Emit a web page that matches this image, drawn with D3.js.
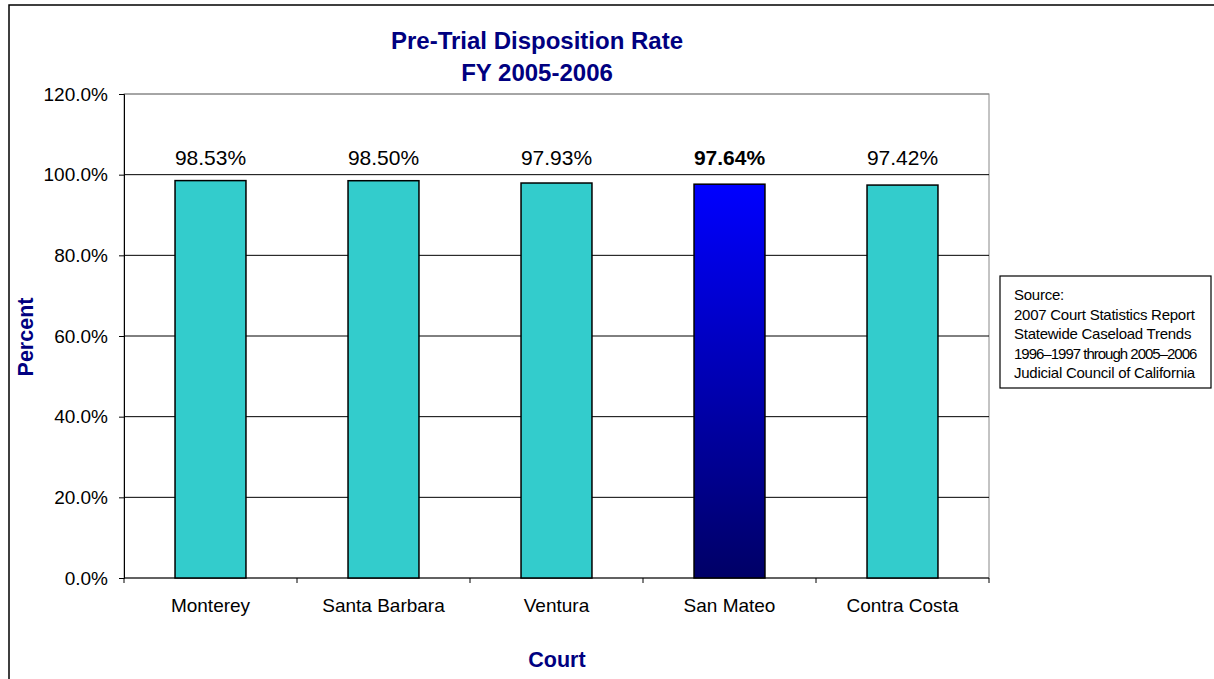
<!DOCTYPE html>
<html><head><meta charset="utf-8">
<script src="https://cdn.jsdelivr.net/npm/d3@7"></script>
<style>body{margin:0;background:#fff;} text{font-family:Arial,"Liberation Sans",sans-serif;}</style>
</head><body>
<svg id="c" width="1214" height="679"></svg>
<script>
const courts = ["Monterey","Santa Barbara","Ventura","San Mateo","Contra Costa"];
const rates = [98.53, 98.50, 97.93, 97.64, 97.42];
const highlight = ["San Mateo"];
const yTicks = [0,20,40,60,80,100,120];
const titleLines = ["Pre-Trial Disposition Rate","FY 2005-2006"];
const sourceLines = ["Source:","2007 Court Statistics Report","Statewide Caseload Trends","1996\u20131997 through 2005\u20132006","Judicial Council of California"];

const svg = d3.select("#c");
const M = {l:124, t:94, r:989, b:578};
const navy = "#000080";

// outer frame
svg.append("rect").attr("x",9).attr("y",5).attr("width",1300).attr("height",800)
  .attr("fill","#fff").attr("stroke","#000").attr("stroke-width",1.5);

const x = d3.scaleBand().domain(courts).range([M.l,M.r]).paddingInner(0.59).paddingOuter(0.295);
const xc = d3.scaleBand().domain(courts).range([M.l,M.r]);
const y = d3.scaleLinear().domain([0,120]).range([M.b,M.t]);

const defs = svg.append("defs");
const g = defs.append("linearGradient").attr("id","grad").attr("x1",0).attr("y1",0).attr("x2",0).attr("y2",1);
g.append("stop").attr("offset","0%").attr("stop-color","#0000ff");
g.append("stop").attr("offset","100%").attr("stop-color","#000066");

// plot area border
svg.append("rect").attr("x",M.l).attr("y",M.t).attr("width",M.r-M.l).attr("height",M.b-M.t)
  .attr("fill","none").attr("stroke","#888").attr("stroke-width",1);

// gridlines
svg.append("g").selectAll("line").data(yTicks.filter(d=>d>0)).join("line")
  .attr("x1",M.l).attr("x2",M.r).attr("y1",d=>y(d)).attr("y2",d=>y(d))
  .attr("stroke",d=>d===120?"#888":"#000").attr("stroke-width",1);

// y axis
const yAxis = d3.axisLeft(y).tickValues(yTicks).tickSize(5).tickFormat(d=>d.toFixed(1)+"%");
const ya = svg.append("g").attr("transform",`translate(${M.l},0)`).call(yAxis);
ya.select(".domain").attr("stroke","#000");
ya.selectAll(".tick line").attr("stroke","#000");
ya.selectAll("text").attr("font-size",19).attr("fill","#000").attr("x",-16).attr("font-family","Arial, 'Liberation Sans', sans-serif");

// x axis
const xa = svg.append("g").attr("transform",`translate(0,${M.b})`);
xa.append("line").attr("x1",M.l).attr("x2",M.r).attr("stroke","#000");
xa.selectAll("line.t").data(d3.range(courts.length+1)).join("line").attr("class","t")
  .attr("x1",i=>M.l+i*xc.bandwidth()).attr("x2",i=>M.l+i*xc.bandwidth()).attr("y1",0).attr("y2",5).attr("stroke","#000");
xa.selectAll("text").data(courts).join("text")
  .attr("x",d=>xc(d)+xc.bandwidth()/2).attr("y",34).attr("text-anchor","middle")
  .attr("font-size",19).attr("fill","#000").text(d=>d);

// bars
svg.append("g").selectAll("rect").data(courts).join("rect")
  .attr("x",d=>x(d)).attr("width",x.bandwidth())
  .attr("y",(d,i)=>y(rates[i])).attr("height",(d,i)=>M.b-y(rates[i]))
  .attr("fill",d=>highlight.includes(d)?"url(#grad)":"#33cccc")
  .attr("stroke","#000").attr("stroke-width",1.5);

// value labels
svg.append("g").selectAll("text").data(courts).join("text")
  .attr("x",d=>x(d)+x.bandwidth()/2).attr("y",165).attr("text-anchor","middle")
  .attr("font-size",21).attr("fill","#000")
  .attr("font-weight",d=>highlight.includes(d)?"bold":"normal")
  .text((d,i)=>rates[i].toFixed(2)+"%");

// title
svg.append("g").selectAll("text").data(titleLines).join("text")
  .attr("x",537).attr("y",(d,i)=>49+i*32).attr("text-anchor","middle")
  .attr("font-size",24).attr("font-weight","bold").attr("fill",navy).text(d=>d);

// axis titles
svg.append("text").attr("transform","translate(33,337) rotate(-90)").attr("text-anchor","middle")
  .attr("font-size",21.5).attr("font-weight","bold").attr("fill",navy).text("Percent");
svg.append("text").attr("x",557).attr("y",667).attr("text-anchor","middle")
  .attr("font-size",21.5).attr("font-weight","bold").attr("fill",navy).text("Court");

// source box
svg.append("rect").attr("x",1000).attr("y",276).attr("width",211).attr("height",112)
  .attr("fill","#fff").attr("stroke","#000").attr("stroke-width",1.2);
svg.append("g").selectAll("text").data(sourceLines).join("text")
  .attr("x",1014).attr("y",(d,i)=>300+i*19.5).attr("font-size",15)
  .attr("letter-spacing",d=>/^\d{4}\u2013/.test(d)?-1:-0.25)
  .attr("fill","#000").text(d=>d);
</script>
</body></html>
